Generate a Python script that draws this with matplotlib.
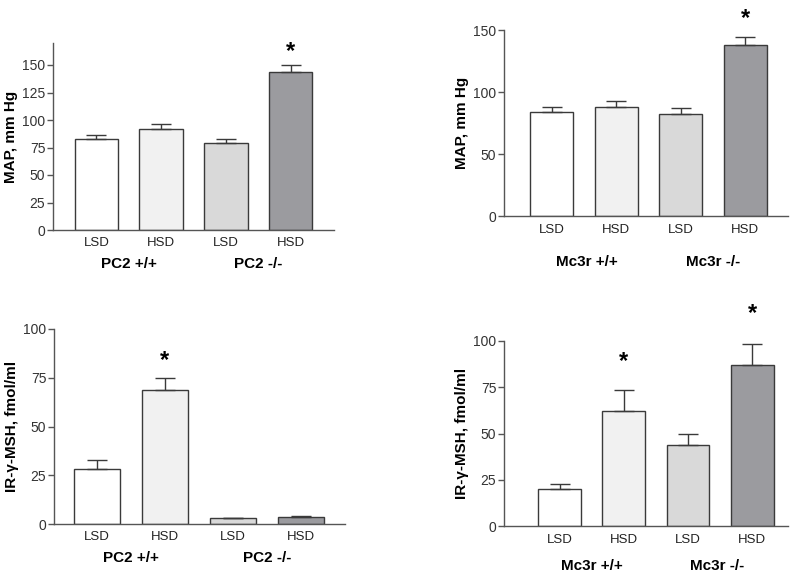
import matplotlib
matplotlib.use("Agg")
import matplotlib.pyplot as plt

plt.rcParams['font.family'] = ['Liberation Sans', 'DejaVu Sans']

diets = ["LSD", "HSD", "LSD", "HSD"]
bar_colors = ["#ffffff", "#f1f1f1", "#d9d9d9", "#9b9b9f"]

# top-left: MAP in PC2 mice
pc2_map = [83, 92, 79, 144]
pc2_map_err = [3.5, 4, 4, 6]
# top-right: MAP in Mc3r mice
mc3r_map = [84, 88, 82, 138]
mc3r_map_err = [4, 5, 5, 6]
# bottom-left: IR-gamma-MSH in PC2 mice
pc2_msh = [28, 68.5, 3.0, 3.8]
pc2_msh_err = [5, 6.5, 0.3, 0.4]
# bottom-right: IR-gamma-MSH in Mc3r mice
mc3r_msh = [20, 62, 44, 87]
mc3r_msh_err = [2.5, 11.5, 6, 11.5]

W, H = 800, 576
fig = plt.figure(figsize=(W / 100, H / 100), dpi=100)


def px_axes(left, right, top, bottom):
    return fig.add_axes([left / W, 1 - bottom / H, (right - left) / W, (bottom - top) / H])


def panel(ax, vals, errs, ylim, yticks, ylabel, xlim, groups, stars, star_y,
          group_y, tick_pad):
    x = range(len(vals))
    ax.bar(x, vals, width=0.67, color=bar_colors, edgecolor="#3a3a3a",
           linewidth=1.0, zorder=2)
    ax.errorbar(x, vals, yerr=[[0] * len(errs), errs], fmt="none",
                ecolor="#3a3a3a", elinewidth=1.0, capsize=7.5, capthick=1.0,
                zorder=3)
    ax.set_xlim(*xlim)
    ax.set_ylim(*ylim)
    ax.set_yticks(yticks)
    ax.set_xticks(list(x))
    ax.set_xticklabels(diets, fontsize=9.5)
    ax.tick_params(axis="x", length=0, pad=tick_pad, colors="#222222")
    ax.tick_params(axis="y", direction="out", length=4, width=1, pad=1.5,
                   color="#555555", labelsize=10, labelcolor="#333333")
    for s in ["top", "right"]:
        ax.spines[s].set_visible(False)
    for s in ["left", "bottom"]:
        ax.spines[s].set_color("#555555")
        ax.spines[s].set_linewidth(1.0)
    ax.set_ylabel(ylabel, fontsize=11, fontweight="bold", labelpad=3)
    for gx, gtext in groups:
        ax.text(gx, group_y, gtext, transform=ax.get_xaxis_transform(),
                ha="center", va="center", fontsize=11, fontweight="bold",
                clip_on=False)
    for i in stars:
        ax.text(i, star_y[i], "*", ha="center", va="center", fontsize=17,
                fontweight="bold", clip_on=False)


ax1 = px_axes(53, 334, 43, 230)
panel(ax1, pc2_map, pc2_map_err, (0, 170), [0, 25, 50, 75, 100, 125, 150],
      "MAP, mm Hg", (-0.67, 3.67),
      [(0.5, "PC2 +/+"), (2.5, "PC2 -/-")], [3], {3: 162}, -0.18, 5)

ax2 = px_axes(504, 788, 30, 216)
panel(ax2, mc3r_map, mc3r_map_err, (0, 150), [0, 50, 100, 150],
      "MAP, mm Hg", (-0.74, 3.66),
      [(0.55, "Mc3r +/+"), (2.5, "Mc3r -/-")], [3], {3: 159}, -0.25, 6)

ax3 = px_axes(54, 345, 329, 524)
panel(ax3, pc2_msh, pc2_msh_err, (0, 100), [0, 25, 50, 75, 100],
      "IR-\u03b3-MSH, fmol/ml", (-0.63, 3.65),
      [(0.5, "PC2 +/+"), (2.5, "PC2 -/-")], [1], {1: 84}, -0.175, 5)

ax4 = px_axes(504, 788, 341, 526)
panel(ax4, mc3r_msh, mc3r_msh_err, (0, 100), [0, 25, 50, 75, 100],
      "IR-\u03b3-MSH, fmol/ml", (-0.87, 3.56),
      [(0.5, "Mc3r +/+"), (2.45, "Mc3r -/-")], [1, 3], {1: 89, 3: 115},
      -0.215, 6)

fig.savefig("out.png", dpi=100, facecolor="white")
